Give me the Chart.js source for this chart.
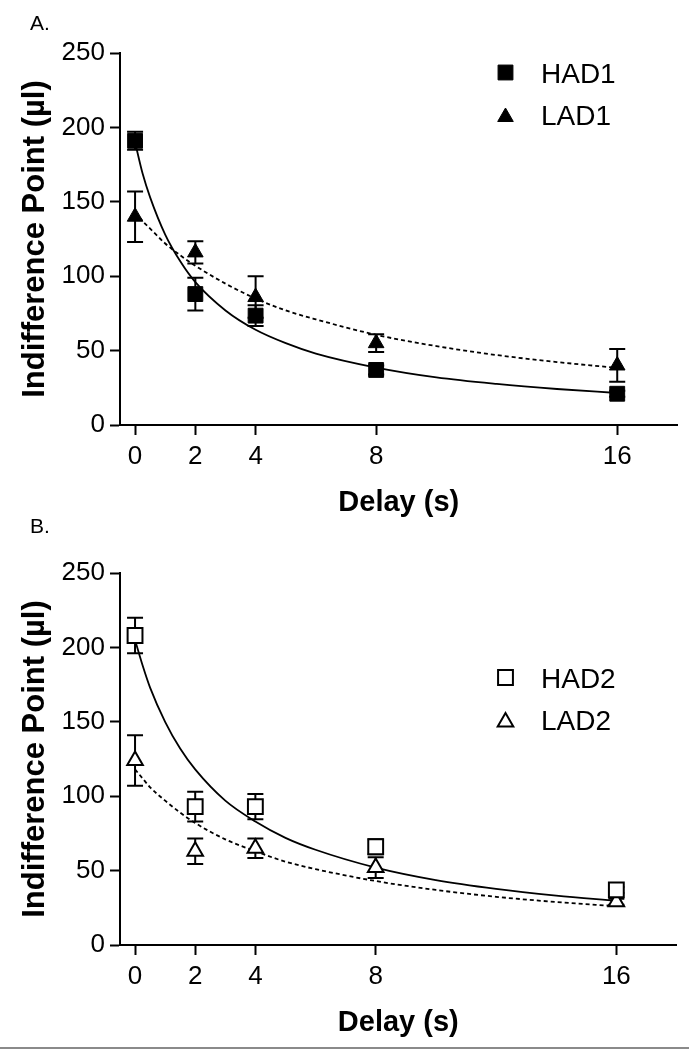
<!DOCTYPE html>
<html>
<head>
<meta charset="utf-8">
<script src="https://cdn.jsdelivr.net/npm/chart.js@4"></script>
<style>
  html, body { margin: 0; padding: 0; background: #fff; }
  body { width: 689px; height: 1050px; position: relative; overflow: hidden; }
  canvas { position: absolute; left: 0; }
  #chartA { top: 0; }
  #chartB { top: 500px; }
  .rule { position: absolute; left: 0; top: 1047px; width: 689px; height: 2px; background: #8a8a8a; }
</style>
</head>
<body>
<canvas id="chartA" width="689" height="520"></canvas>
<canvas id="chartB" width="689" height="540"></canvas>
<div class="rule"></div>
<script>
const delays = [0, 2, 4, 8, 16];
const xTicks = [0, 2, 4, 8, 16];
const yTicks = [0, 50, 100, 150, 200, 250];

// panel A
const had1 = [191, 88, 73.5, 37, 21];
const had1Sem = [6, 11, 7, 3, 2];
const lad1 = [140, 116, 86, 55, 40];
const lad1Sem = [17, 7.5, 14, 6, 11];

// panel B
const had2 = [208, 93, 93, 66, 37];
const had2Sem = [12, 10, 8.5, 5, 2];
const lad2 = [124, 63, 65, 52, 29];
const lad2Sem = [17, 8.5, 6.5, 7, 2];

// fitted curves
const fitX = [0, 0.25, 0.5, 1, 1.5, 2, 3, 4, 5, 6, 8, 10, 12, 14, 16];
const had1Fit = [190, 169, 153, 128, 110, 96, 77, 64, 55, 48, 38.6, 32, 27.6, 24.2, 21.5];
const lad1Fit = [143, 137, 132, 122, 114, 107, 95, 85, 77, 71, 60.6, 53, 47, 42.3, 38.4];
const had2Fit = [205, 188, 173, 150, 132, 118, 97, 83, 72, 64, 52, 43.6, 37.7, 33.2, 29.6];
const lad2Fit = [118, 112, 106, 97, 89, 82, 71, 63, 56, 51, 43, 37, 32.4, 28.9, 26.1];

const FONT = "'Liberation Sans', Arial, Helvetica, sans-serif";
Chart.defaults.font.family = FONT;
Chart.defaults.color = '#000';

function pts(xs, ys) {
  return xs.map((x, i) => ({ x: x, y: ys[i] }));
}

function marker(ctx, style, r, x, y, fill) {
  ctx.beginPath();
  if (style === 'rect') {
    const s = r * Math.SQRT1_2;
    ctx.rect(x - s, y - s, 2 * s, 2 * s);
  } else {
    const h = Math.sin(Math.PI / 3) * r;
    ctx.moveTo(x, y - r);
    ctx.lineTo(x + h, y + r / 2);
    ctx.lineTo(x - h, y + r / 2);
    ctx.closePath();
  }
  ctx.fillStyle = fill;
  ctx.fill();
  ctx.stroke();
}

const figurePlugin = {
  id: 'figure',
  beforeDatasetsDraw(chart) {
    const { ctx, scales: { x, y } } = chart;
    ctx.save();
    ctx.strokeStyle = '#000';
    ctx.lineWidth = 2;
    chart.data.datasets.forEach(ds => {
      if (!ds.errors) return;
      ds.data.forEach((p, j) => {
        const e = ds.errors[j];
        const px = x.getPixelForValue(p.x);
        const top = y.getPixelForValue(p.y + e);
        const bot = y.getPixelForValue(p.y - e);
        ctx.beginPath();
        ctx.moveTo(px, top); ctx.lineTo(px, bot);
        ctx.moveTo(px - 8, top); ctx.lineTo(px + 8, top);
        ctx.moveTo(px - 8, bot); ctx.lineTo(px + 8, bot);
        ctx.stroke();
      });
    });
    ctx.restore();
  },
  afterDraw(chart, args, opts) {
    const ctx = chart.ctx;
    ctx.save();
    ctx.fillStyle = '#000';
    ctx.font = '21px ' + FONT;
    ctx.textBaseline = 'alphabetic';
    ctx.fillText(opts.letter, 30, opts.letterY);

    // legend
    ctx.font = '28px ' + FONT;
    let k = 0;
    chart.data.datasets.forEach(ds => {
      if (!ds.errors) return;
      const cy = opts.legendY[k++];
      ctx.strokeStyle = '#000';
      ctx.lineWidth = ds.pointBorderWidth;
      const my = ds.pointStyle === 'rect' ? cy : cy + 2;
      marker(ctx, ds.pointStyle, ds.pointRadius, 505.5, my, ds.pointBackgroundColor);
      ctx.fillStyle = '#000';
      ctx.fillText(ds.label, 541, cy + 10);
    });
    ctx.restore();
  }
};

function makePanel(id, cfg) {
  const axisGrid = {
    display: true, drawOnChartArea: false, drawTicks: true,
    tickLength: 10, tickWidth: 2, tickColor: '#000'
  };
  const axisBorder = { display: true, color: '#000', width: 2 };
  new Chart(document.getElementById(id), {
    type: 'scatter',
    data: {
      datasets: [
        {
          label: cfg.hadLabel, data: pts(delays, cfg.had), errors: cfg.hadSem,
          pointStyle: 'rect', pointRadius: 10.5, pointHoverRadius: 10.5,
          pointBackgroundColor: cfg.fill, pointBorderColor: '#000', pointBorderWidth: cfg.border,
          showLine: false
        },
        {
          label: cfg.ladLabel, data: pts(delays, cfg.lad), errors: cfg.ladSem,
          pointStyle: 'triangle', pointRadius: 9, pointHoverRadius: 9,
          pointBackgroundColor: cfg.fill, pointBorderColor: '#000', pointBorderWidth: cfg.border,
          showLine: false
        },
        {
          label: cfg.hadLabel + ' fit', data: pts(fitX, cfg.hadFit),
          showLine: true, borderColor: '#000', borderWidth: 1.8,
          pointRadius: 0, cubicInterpolationMode: 'monotone'
        },
        {
          label: cfg.ladLabel + ' fit', data: pts(fitX, cfg.ladFit),
          showLine: true, borderColor: '#000', borderWidth: 1.8, borderDash: [4, 3],
          pointRadius: 0, cubicInterpolationMode: 'monotone'
        }
      ]
    },
    options: {
      responsive: false,
      animation: false,
      events: [],
      clip: false,
      layout: { padding: { left: 0, top: cfg.top, right: 11, bottom: 0 } },
      scales: {
        x: {
          type: 'linear', min: -0.5, max: 18,
          afterBuildTicks: s => { s.ticks = xTicks.map(v => ({ value: v })); },
          afterFit: s => { s.height = 95; },
          grid: axisGrid,
          border: axisBorder,
          ticks: { color: '#000', font: { size: 26 }, padding: 6, maxRotation: 0, autoSkip: false },
          title: {
            display: true, text: 'Delay (s)', color: '#000',
            font: { size: 29, weight: 'bold' }, padding: { top: 0, bottom: 0 }
          }
        },
        y: {
          type: 'linear', min: 0, max: 250,
          afterBuildTicks: s => { s.ticks = yTicks.map(v => ({ value: v })); },
          afterFit: s => { s.width = 120; },
          grid: axisGrid,
          border: axisBorder,
          ticks: { color: '#000', font: { size: 26 }, padding: 5 },
          title: {
            display: true, text: 'Indifference Point (µl)', color: '#000',
            font: { size: 31, weight: 'bold' }, padding: { top: 17, bottom: 0 }
          }
        }
      },
      plugins: {
        legend: { display: false },
        tooltip: { enabled: false },
        figure: { letter: cfg.letter, letterY: cfg.letterY, legendY: cfg.legendY }
      }
    },
    plugins: [figurePlugin]
  });
}

makePanel('chartA', {
  letter: 'A.', letterY: 30, top: 53, legendY: [72.5, 115],
  hadLabel: 'HAD1', ladLabel: 'LAD1', fill: '#000', border: 1,
  had: had1, hadSem: had1Sem, lad: lad1, ladSem: lad1Sem,
  hadFit: had1Fit, ladFit: lad1Fit
});

makePanel('chartB', {
  letter: 'B.', letterY: 33, top: 73, legendY: [177.5, 220],
  hadLabel: 'HAD2', ladLabel: 'LAD2', fill: '#fff', border: 2,
  had: had2, hadSem: had2Sem, lad: lad2, ladSem: lad2Sem,
  hadFit: had2Fit, ladFit: lad2Fit
});
</script>
</body>
</html>
